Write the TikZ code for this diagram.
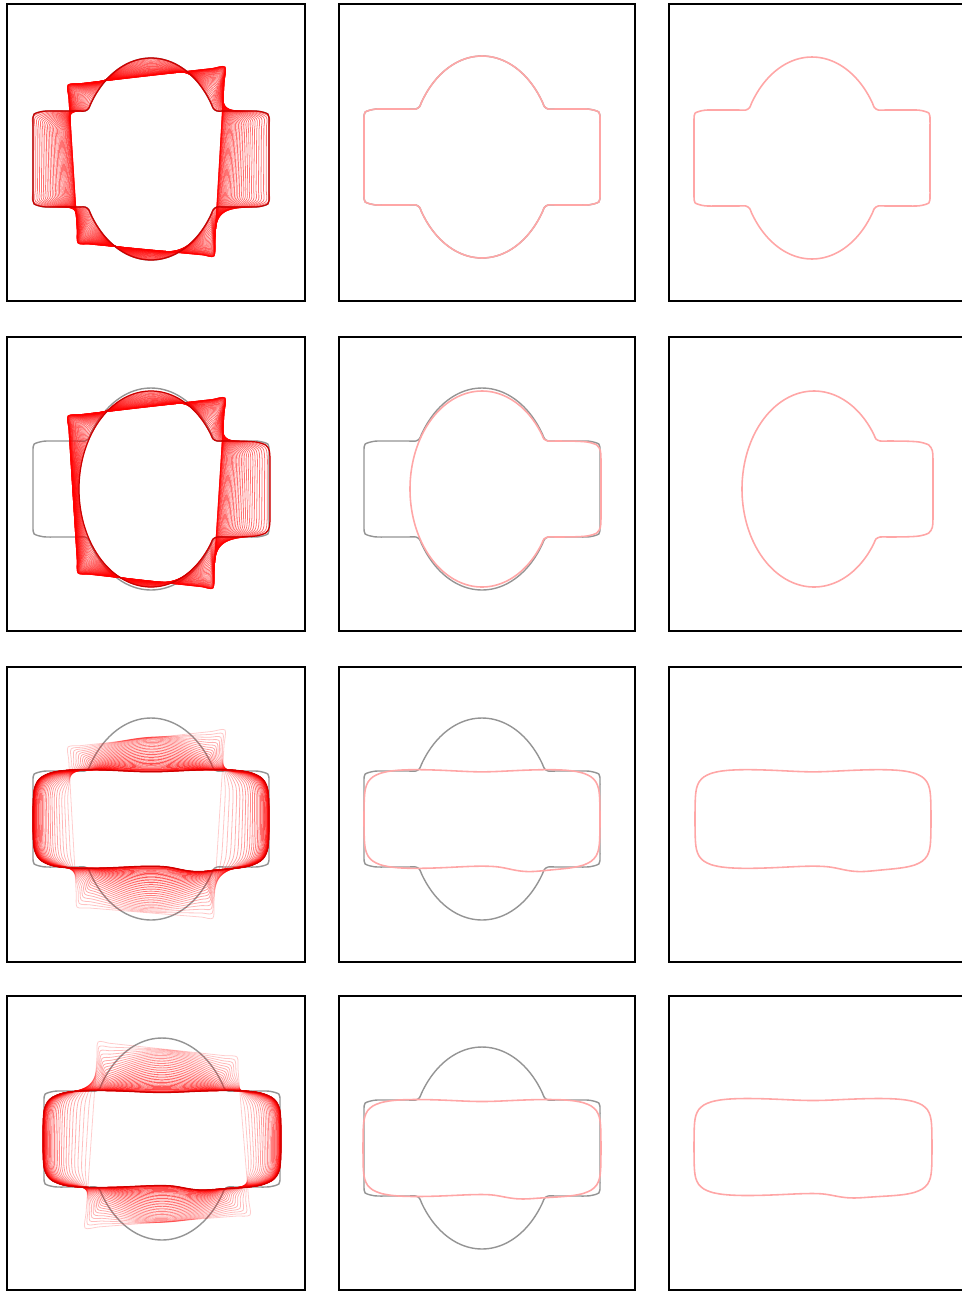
\documentclass[tikz,border=0pt]{standalone}
\usepackage{tikz}

% radius of a rounded box (half sizes #2 x #3, corner exponent #4) in direction #1
\pgfmathdeclarefunction{rbox}{4}{%
  \begingroup
  \pgfmathparse{max(abs(cos(#1))*100/#2,0.001)}\let\bxc\pgfmathresult
  \pgfmathparse{max(abs(sin(#1))*100/#3,0.001)}\let\bxs\pgfmathresult
  \pgfmathparse{max(\bxc,\bxs)}\let\bxm\pgfmathresult
  \pgfmathparse{100/(\bxm*((\bxc/\bxm)^#4+(\bxs/\bxm)^#4)^(1/#4))}%
  \pgfmathsmuggle\pgfmathresult
  \endgroup}
% radius of an ellipse (half axes #2 x #3) in direction #1
\pgfmathdeclarefunction{rell}{3}{%
  \begingroup
  \pgfmathparse{abs(cos(#1))*100/#2}\let\elc\pgfmathresult
  \pgfmathparse{abs(sin(#1))*100/#3}\let\els\pgfmathresult
  \pgfmathparse{100/sqrt(\elc*\elc+\els*\els)}%
  \pgfmathsmuggle\pgfmathresult
  \endgroup}
% the outlines
\pgfmathdeclarefunction{tgt}{1}{\pgfmathparse{max(rbox(#1,118,48,24),rell(#1,72,101))}}
\pgfmathdeclarefunction{bulb}{1}{\pgfmathparse{max(rell(#1,72,98),(cos(#1)>0)*rbox(#1,119,48,12))}}
\pgfmathdeclarefunction{dome}{1}{\pgfmathparse{max(rbox(#1,112,48,8),rell(#1,68,88))}}
\pgfmathdeclarefunction{wavea}{1}{\pgfmathparse{rbox(#1,118,51,6)*(1-0.075*sin(#1)^2)+5*max(0,cos(#1-48))^30}}
\pgfmathdeclarefunction{waveb}{1}{\pgfmathparse{rbox(#1,119,50,6)*(1-0.07*sin(#1)^2)+4*max(0,cos(#1-52))^24}}

\newcommand{\setquad}[8]{\def\TLx{#1}\def\TLy{#2}\def\TRx{#3}\def\TRy{#4}%
  \def\BRx{#5}\def\BRy{#6}\def\BLx{#7}\def\BLy{#8}}
\newcommand{\quv}[1]{%
  \pgfmathparse{cos(#1)}\let\qc\pgfmathresult
  \pgfmathparse{sin(#1)}\let\qs\pgfmathresult
  \pgfmathparse{max(abs(\qc),abs(\qs))}\let\qm\pgfmathresult
  \pgfmathparse{(\qc/\qm+1)/2}\let\qu\pgfmathresult
  \pgfmathparse{(\qs/\qm+1)/2}\let\qv\pgfmathresult}
\newcommand{\shapeline}[2]{%
  \draw[#1] plot[domain=0:357, samples=120, smooth cycle]
    ({\cx+#2(\x)*cos(\x)},{\cy+#2(\x)*sin(\x)});}
\newcommand{\prepfan}[2]{% #1 midway outline, #2 final outline
  \foreach \a in {0,5,...,355}{%
    \quv{\a}%
    \pgfmathsetmacro\qxv{(1-\qu)*(1-\qv)*\TLx+\qu*(1-\qv)*\TRx+\qu*\qv*\BRx+(1-\qu)*\qv*\BLx}%
    \pgfmathsetmacro\qyv{(1-\qu)*(1-\qv)*\TLy+\qu*(1-\qv)*\TRy+\qu*\qv*\BRy+(1-\qu)*\qv*\BLy}%
    \pgfmathsetmacro\rmv{#1(\a)}%
    \pgfmathsetmacro\rrv{#2(\a)}%
    \expandafter\xdef\csname fan\a\endcsname{{\qxv}{\qyv}{\rmv}{\rrv}}}}
\newcommand{\fanpoint}[4]{%
  \pgfmathsetmacro\fpx{(1-\mw)^2*#1+(1-(1-\mw)^2)*\cx+(2*\mw*(1-\mw)*#3+\mw*\mw*#4)*cos(\a)}%
  \pgfmathsetmacro\fpy{(1-\mw)^2*#2+(1-(1-\mw)^2)*\cy+(2*\mw*(1-\mw)*#3+\mw*\mw*#4)*sin(\a)}%
  \xdef\fanpts{\fanpts(\fpx,\fpy)}}
\newcommand{\morphfan}[3]{% #1 last curve, #2 share of the way for curve \k, #3 opacity
  \foreach \k in {0,...,#1}{%
    \pgfmathsetmacro\mw{#2}%
    \pgfmathsetmacro\fop{#3}%
    \gdef\fanpts{}%
    \foreach \a in {0,5,...,355}{%
      \expandafter\expandafter\expandafter\fanpoint\csname fan\a\endcsname}%
    \edef\fancmd{\noexpand\draw[fanline, opacity=\fop] plot[smooth cycle] coordinates {\fanpts};}%
    \fancmd}}

\begin{document}
\begin{tikzpicture}[x=0.02cm, y=-0.02cm,
  frame/.style={draw=black, line width=1.2pt},
  tgtline/.style={draw=black!42, line width=0.8pt},
  resline/.style={draw=red!35, line width=0.9pt},
  fanline/.style={draw=red, line width=0.45pt},
  endline/.style={draw=red!80!black, line width=0.7pt}]
\useasboundingbox (0,0) rectangle (962,1292);

% row 1
\begin{scope}[shift={(7,4)}]
  \def\cx{144}\def\cy{155}
  \setquad{61}{81}{218}{63}{207}{252}{71}{239}
  \draw[frame] (0,0) rectangle (298,297);
  \shapeline{tgtline}{tgt}
  \prepfan{tgt}{tgt}
  \morphfan{40}{1-sqrt(1-(\k/40)^2.2)}{0.55}
  \shapeline{endline}{tgt}
\end{scope}
\begin{scope}[shift={(339,4)}]
  \def\cx{143}\def\cy{153}
  \draw[frame] (0,0) rectangle (296,297);
  \shapeline{tgtline}{tgt}
  \shapeline{resline}{tgt}
\end{scope}
\begin{scope}[shift={(669,4)}]
  \def\cx{143}\def\cy{154}
  \draw[frame] (0,0) rectangle (298,297);
  \shapeline{resline}{tgt}
\end{scope}

% row 2
\begin{scope}[shift={(7,337)}]
  \def\cx{144}\def\cy{152}
  \setquad{61}{79}{218}{61}{206}{251}{71}{236}
  \draw[frame] (0,0) rectangle (298,294);
  \shapeline{tgtline}{tgt}
  \prepfan{bulb}{bulb}
  \morphfan{40}{1-sqrt(1-(\k/40)^2.2)}{0.55}
  \shapeline{endline}{bulb}
\end{scope}
\begin{scope}[shift={(339,337)}]
  \def\cx{143}\def\cy{152}
  \draw[frame] (0,0) rectangle (296,294);
  \shapeline{tgtline}{tgt}
  \shapeline{resline}{bulb}
\end{scope}
\begin{scope}[shift={(669,337)}]
  \def\cx{145}\def\cy{152}
  \draw[frame] (0,0) rectangle (298,294);
  \shapeline{resline}{bulb}
\end{scope}

% row 3
\begin{scope}[shift={(7,667)}]
  \def\cx{144}\def\cy{152}
  \setquad{61}{80}{218}{63}{206}{251}{70}{240}
  \draw[frame] (0,0) rectangle (298,295);
  \shapeline{tgtline}{tgt}
  \prepfan{dome}{wavea}
  \morphfan{36}{1-(1-\k/36)^2}{0.2+0.55*\mw}
  \shapeline{endline}{wavea}
\end{scope}
\begin{scope}[shift={(339,667)}]
  \def\cx{143}\def\cy{152}
  \draw[frame] (0,0) rectangle (296,295);
  \shapeline{tgtline}{tgt}
  \shapeline{resline}{wavea}
\end{scope}
\begin{scope}[shift={(669,667)}]
  \def\cx{144}\def\cy{152}
  \draw[frame] (0,0) rectangle (298,295);
  \shapeline{resline}{wavea}
\end{scope}

% row 4
\begin{scope}[shift={(7,996)}]
  \def\cx{155}\def\cy{143}
  \setquad{91}{46}{230}{61}{243}{219}{78}{232}
  \draw[frame] (0,0) rectangle (298,294);
  \shapeline{tgtline}{tgt}
  \prepfan{dome}{waveb}
  \morphfan{36}{1-(1-\k/36)^2}{0.2+0.5*\mw}
  \shapeline{endline}{waveb}
\end{scope}
\begin{scope}[shift={(339,996)}]
  \def\cx{143}\def\cy{152}
  \draw[frame] (0,0) rectangle (296,294);
  \shapeline{tgtline}{tgt}
  \shapeline{resline}{waveb}
\end{scope}
\begin{scope}[shift={(669,996)}]
  \def\cx{144}\def\cy{151}
  \draw[frame] (0,0) rectangle (298,294);
  \shapeline{resline}{waveb}
\end{scope}
\end{tikzpicture}
\end{document}
